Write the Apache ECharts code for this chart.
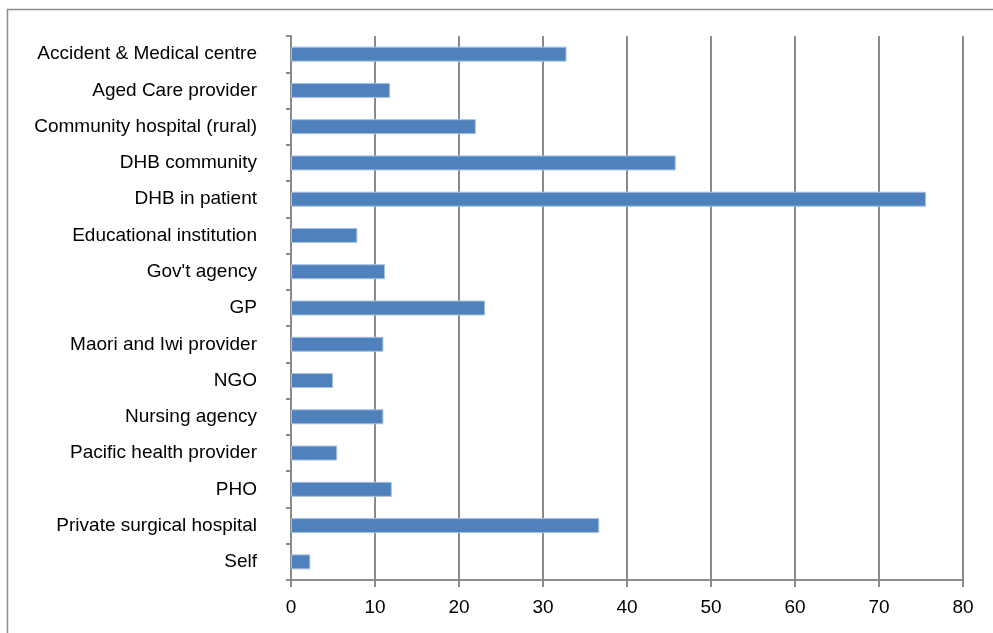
<!DOCTYPE html>
<html>
<head>
<meta charset="utf-8">
<script src="https://cdn.jsdelivr.net/npm/echarts@6/dist/echarts.min.js"></script>
<style>
html, body { margin: 0; padding: 0; background: #fff; }
#chart { width: 993px; height: 633px; }
</style>
</head>
<body>
<div id="chart"></div>
<script>
var categories = [
	'Accident & Medical centre',
	'Aged Care provider',
	'Community hospital (rural)',
	'DHB community',
	'DHB in patient',
	'Educational institution',
	"Gov't agency",
	'GP',
	'Maori and Iwi provider',
	'NGO',
	'Nursing agency',
	'Pacific health provider',
	'PHO',
	'Private surgical hospital',
	'Self'
];
var values = [32.8, 11.8, 22.0, 45.8, 75.6, 7.9, 11.2, 23.1, 11.0, 5.0, 11.0, 5.5, 12.0, 36.7, 2.3];
var xTicks = [0, 80, 10];

var chart = echarts.init(document.getElementById('chart'));
var axisGrey = '#8a8a8a';
var font = "'Liberation Sans', Arial, sans-serif";

chart.setOption({
	animation: false,
	graphic: [{
		type: 'rect',
		shape: { x: 7.5, y: 9.5, width: 1000, height: 700 },
		style: { fill: 'none', stroke: '#8c8c8c', lineWidth: 1.5 },
		silent: true
	}],
	grid: { left: 291, right: 30, top: 36, bottom: 53 },
	xAxis: {
		type: 'value',
		min: xTicks[0],
		max: xTicks[1],
		interval: xTicks[2],
		axisLine: { show: true, lineStyle: { color: axisGrey, width: 2 } },
		axisTick: { show: true, length: 7, lineStyle: { color: axisGrey, width: 2 } },
		splitLine: { show: true, lineStyle: { color: axisGrey, width: 2 } },
		axisLabel: { color: '#000', fontFamily: font, fontSize: 19, margin: 18 }
	},
	yAxis: {
		type: 'category',
		data: categories,
		inverse: true,
		axisLine: { show: true, lineStyle: { color: axisGrey, width: 2 } },
		axisTick: { show: true, length: 5, lineStyle: { color: axisGrey, width: 2 } },
		axisLabel: { color: '#000', fontFamily: font, fontSize: 19, margin: 34 }
	},
	series: [{
		type: 'bar',
		data: values,
		barWidth: 15,
		itemStyle: { color: '#4f81bd', borderColor: '#a9c1e0', borderWidth: 1 }
	}]
});
</script>
</body>
</html>
